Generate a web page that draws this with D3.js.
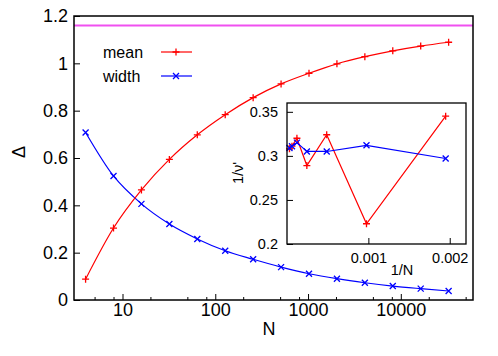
<!DOCTYPE html>
<html>
<head>
<meta charset="utf-8">
<script src="https://cdn.jsdelivr.net/npm/d3@7"></script>
<style>
  body { margin: 0; background: #fff; }
  text { font-family: "Liberation Sans", Arial, Helvetica, sans-serif; fill: #000; }
</style>
</head>
<body>
<div id="chart"></div>
<script>
// data
var sizes = [4, 8, 16, 32, 64, 128, 256, 512, 1024, 2048, 4096, 8192, 16384, 32768];
var meanVals = [0.088, 0.304, 0.465, 0.594, 0.698, 0.783, 0.855, 0.913, 0.958, 0.998, 1.028, 1.053, 1.073, 1.089];
var widthVals = [0.708, 0.524, 0.406, 0.321, 0.258, 0.208, 0.172, 0.139, 0.111, 0.090, 0.073, 0.059, 0.048, 0.038];
var limitVal = 1.16;

// inset: 1/nu' against 1/N
var insetInvN = [0.0000305, 0.000061, 0.000122, 0.000244, 0.000488, 0.000977, 0.00195];
var insetMean = [0.308, 0.311, 0.320, 0.289, 0.324, 0.223, 0.345];
var insetWidth = [0.309, 0.311, 0.315, 0.305, 0.305, 0.312, 0.297];

var xMajor = [10, 100, 1000, 10000];
var xMinor = [5, 8, 20, 50, 80, 200, 500, 800, 2000, 5000, 8000, 20000, 50000];
var yTicks = [0, 0.2, 0.4, 0.6, 0.8, 1, 1.2];
var insetYTicks = [0.2, 0.25, 0.3, 0.35];
var insetXTicks = [0.001, 0.002];

var W = 498, H = 356;
var red = "#ff0000", blue = "#0000ff";

var svg = d3.select("#chart").append("svg")
    .attr("width", W)
    .attr("height", H);

// main scales
var x = d3.scaleLog().domain([3, 60000]).range([74, 473]);
var y = d3.scaleLinear().domain([0, 1.2]).range([300, 16]);

function plus(s) { return "M" + (-s) + ",0H" + s + "M0," + (-s) + "V" + s; }
function cross(s) { return "M" + (-s) + "," + (-s) + "L" + s + "," + s + "M" + (-s) + "," + s + "L" + s + "," + (-s); }

// axes (ticks point inward)
svg.append("g").attr("transform", "translate(0,300)")
    .call(d3.axisBottom(x).tickValues(xMajor).tickSize(-6).tickPadding(3).tickFormat(d3.format("d")));
svg.append("g").attr("transform", "translate(0,300)")
    .call(d3.axisBottom(x).tickValues(xMinor).tickSize(-3).tickFormat(""));
svg.append("g").attr("transform", "translate(74,0)")
    .call(d3.axisLeft(y).tickValues(yTicks).tickSize(-6).tickPadding(6).tickFormat(d3.format("~g")));
svg.selectAll(".domain").remove();
svg.selectAll(".tick line").attr("stroke", "#000");
svg.selectAll(".tick text").style("font-size", "18px");

// limit line
svg.append("line")
    .attr("x1", x.range()[0]).attr("x2", x.range()[1])
    .attr("y1", y(limitVal)).attr("y2", y(limitVal))
    .attr("stroke", "#f050f0").attr("stroke-width", 2);

var line = d3.line()
    .x(d => x(d[0]))
    .y(d => y(d[1]))
    .curve(d3.curveMonotoneX);

var meanPts = sizes.map((n, i) => [n, meanVals[i]]);
var widthPts = sizes.map((n, i) => [n, widthVals[i]]);

svg.append("path").attr("d", line(widthPts)).attr("fill", "none").attr("stroke", blue).attr("stroke-width", 1.2);
svg.append("path").attr("d", line(meanPts)).attr("fill", "none").attr("stroke", red).attr("stroke-width", 1.2);

svg.selectAll(".mmean").data(meanPts).enter().append("path")
    .attr("transform", d => "translate(" + x(d[0]) + "," + y(d[1]) + ")")
    .attr("d", plus(3.5)).attr("stroke", red).attr("stroke-width", 1.3);
svg.selectAll(".mwidth").data(widthPts).enter().append("path")
    .attr("transform", d => "translate(" + x(d[0]) + "," + y(d[1]) + ")")
    .attr("d", cross(3)).attr("stroke", blue).attr("stroke-width", 1.3);

// legend
var legend = [["mean", red, plus(3.5)], ["width", blue, cross(3)]];
legend.forEach(function(l, i) {
  var ly = 52 + i * 24;
  svg.append("text").attr("x", 103).attr("y", ly).attr("dy", "0.35em")
      .style("font-size", "16px").text(l[0]);
  svg.append("line").attr("x1", 161).attr("x2", 192).attr("y1", ly).attr("y2", ly)
      .attr("stroke", l[1]).attr("stroke-width", 1.2);
  svg.append("path").attr("transform", "translate(176," + ly + ")")
      .attr("d", l[2]).attr("stroke", l[1]).attr("stroke-width", 1.3);
});

// frame
svg.append("rect")
    .attr("x", 74).attr("y", 16).attr("width", 399).attr("height", 284)
    .attr("fill", "none").attr("stroke", "#000").attr("stroke-width", 1.5);

// axis titles
svg.append("text").attr("x", 269).attr("y", 335).attr("text-anchor", "middle")
    .style("font-size", "18px").text("N");
svg.append("text").attr("transform", "translate(25,152) rotate(-90)").attr("text-anchor", "middle")
    .style("font-size", "18px").text("Δ");

// inset
var ix = d3.scaleLinear().domain([0, 0.0022]).range([287, 466]);
var iy = d3.scaleLinear().domain([0.2, 0.36]).range([244, 103]);

var inset = svg.append("g");
inset.append("rect")
    .attr("x", 287).attr("y", 103).attr("width", 179).attr("height", 141)
    .attr("fill", "#fff");

inset.append("g").attr("transform", "translate(0,244)")
    .call(d3.axisBottom(ix).tickValues(insetXTicks).tickSize(-6).tickPadding(9).tickFormat(d3.format("~g")));
inset.append("g").attr("transform", "translate(287,0)")
    .call(d3.axisLeft(iy).tickValues(insetYTicks).tickSize(-6).tickPadding(9).tickFormat(d3.format("~g")));
inset.selectAll(".domain").remove();
inset.selectAll(".tick line").attr("stroke", "#000");
inset.selectAll(".tick text").style("font-size", "14.5px");

var iline = d3.line().x(d => ix(d[0])).y(d => iy(d[1]));
var imean = insetInvN.map((v, i) => [v, insetMean[i]]);
var iwidth = insetInvN.map((v, i) => [v, insetWidth[i]]);

inset.append("path").attr("d", iline(imean)).attr("fill", "none").attr("stroke", red).attr("stroke-width", 1.2);
inset.append("path").attr("d", iline(iwidth)).attr("fill", "none").attr("stroke", blue).attr("stroke-width", 1.2);
inset.selectAll(".imean").data(imean).enter().append("path")
    .attr("transform", d => "translate(" + ix(d[0]) + "," + iy(d[1]) + ")")
    .attr("d", plus(3.5)).attr("stroke", red).attr("stroke-width", 1.3);
inset.selectAll(".iwidth").data(iwidth).enter().append("path")
    .attr("transform", d => "translate(" + ix(d[0]) + "," + iy(d[1]) + ")")
    .attr("d", cross(3)).attr("stroke", blue).attr("stroke-width", 1.3);

inset.append("rect")
    .attr("x", 287).attr("y", 103).attr("width", 179).attr("height", 141)
    .attr("fill", "none").attr("stroke", "#000").attr("stroke-width", 1.3);

inset.append("text").attr("x", 402).attr("y", 275).attr("text-anchor", "middle")
    .style("font-size", "14.5px").text("1/N");
inset.append("text").attr("transform", "translate(243,173) rotate(-90)").attr("text-anchor", "middle")
    .style("font-size", "14.5px").text("1/ν'");
</script>
</body>
</html>
